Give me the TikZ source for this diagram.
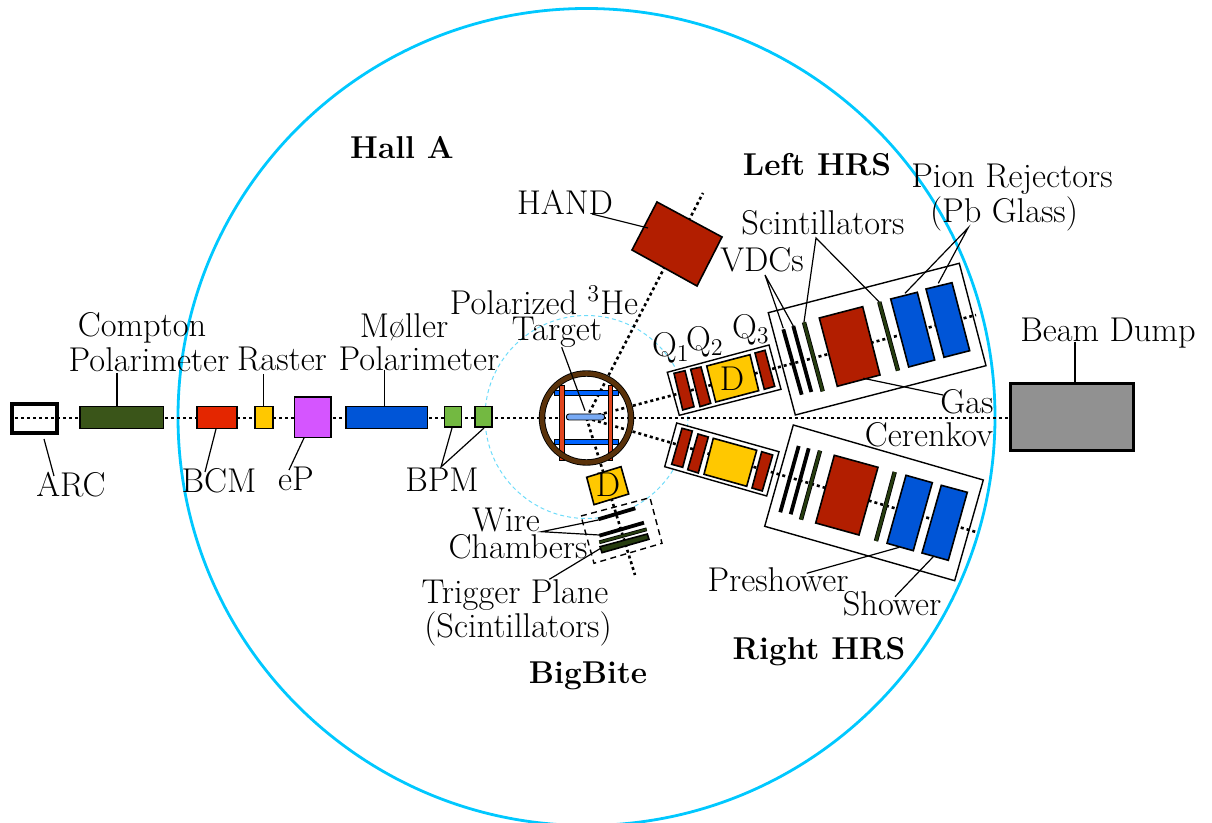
\documentclass[tikz,border=0pt]{standalone}
\usetikzlibrary{calc}
\definecolor{hallcyan}{RGB}{0,200,255}
\definecolor{lightcyan}{RGB}{110,220,250}
\definecolor{dkgreen}{RGB}{58,85,25}
\definecolor{barkgreen}{RGB}{38,60,15}
\definecolor{magred}{RGB}{178,30,0}
\definecolor{bcmred}{RGB}{228,38,0}
\definecolor{yel}{RGB}{255,200,0}
\definecolor{purp}{RGB}{213,85,255}
\definecolor{blu}{RGB}{0,85,215}
\definecolor{tblue}{RGB}{0,100,255}
\definecolor{bpmgreen}{RGB}{115,185,65}
\definecolor{brownring}{RGB}{90,50,10}
\definecolor{cell}{RGB}{120,170,245}
\definecolor{orangered}{RGB}{225,70,30}
\tikzset{
  x=0.5pt,y=-0.5pt,
  txt/.style={inner sep=0pt,font=\fontsize{17.2}{20}\selectfont,align=center},
  bold/.style={txt,font=\fontsize{15.8}{19}\selectfont\bfseries},
  leader/.style={line width=0.6pt,black},
  beam/.style={line width=1.3pt,dash pattern=on 1.5pt off 1.5pt,black},
  part/.style={draw=black,line width=0.8pt},
  tpart/.style={draw=black,line width=0.45pt},
  dev/.style={part,inner sep=0pt,outer sep=0pt},
  cont/.style={draw=black,fill=white,line width=0.7pt},
  bar/.style={line width=1.9pt,black},
}
\newcommand{\dev}[6]{\node[dev,fill=#2,minimum width={(#5-#3)*0.5pt},minimum height={(#6-#4)*0.5pt}] (#1) at ({(#3+#5)/2},{(#4+#6)/2}) {};}
% green scintillator plane as an outlined thick line
\newcommand{\scint}[5][4]{\draw[black,line width={(#1+0.8)*0.5pt}] (#2,#3) -- (#4,#5); \draw[barkgreen,line width={(#1-0.8)*0.5pt}] (#2,#3) -- (#4,#5);}
\begin{document}
\begin{tikzpicture}
\useasboundingbox (0,0) rectangle (1212,823);
% hall and target circles
\coordinate (hallc) at (586.5,417);
\coordinate (pivot) at (586.5,418);
\draw[hallcyan,line width=1.4pt] (hallc) circle[radius=408.5];
\draw[lightcyan,line width=0.5pt,dash pattern=on 2pt off 1.5pt] (hallc) circle[radius=101.5];
% spectrometer containers
\draw[cont] (667.3,372.3) -- (769,345) -- (781,389.3) -- (679.3,415.3) -- cycle;
\draw[cont] (768.3,312.7) -- (959.3,263.3) -- (986,365.7) -- (795.3,415) -- cycle;
\draw[cont] (676.7,423) -- (779,451.7) -- (766.7,496) -- (664.7,466.7) -- cycle;
\draw[cont] (793.3,425) -- (983.3,480) -- (954.7,580.7) -- (764.7,526.3) -- cycle;
% target vessel interior and beam lines
\fill[white] (pivot) circle[radius=46];
\coordinate (beamstart) at (15,418);
\coordinate (beamend) at (1012,418);
\coordinate (handend) at (703,193);
\coordinate (bbend) at (635,575);
\coordinate (lhrsend) at (976,315);
\coordinate (rhrsend) at (976,532);
\draw[beam] (beamstart) -- (beamend);
\draw[beam] (pivot) -- (handend);
\draw[beam] (pivot) -- (bbend);
\draw[beam] (pivot) -- (lhrsend);
\draw[beam] (pivot) -- (rhrsend);
% beamline devices
\node[draw=black,line width=2.1pt,inner sep=0pt,minimum width=22.5pt,minimum height=14.5pt] (arc) at (34.5,418.2) {};
\dev{compton}{dkgreen}{80}{406.7}{163.3}{428.7}
\dev{bcm}{bcmred}{196.7}{406.7}{236.7}{428.7}
\dev{raster}{yel}{254.7}{406.7}{272.7}{428.7}
\dev{ep}{purp}{294.3}{397.3}{330.7}{437.7}
\dev{moller}{blu}{345.7}{406.7}{427.3}{428.7}
\dev{bpma}{bpmgreen}{444.3}{406.7}{461.3}{427.3}
\dev{bpmb}{bpmgreen}{474.7}{406.7}{491.7}{427.3}
\node[draw=black,line width=1.7pt,fill=black!43,inner sep=0pt,minimum width=61.5pt,minimum height=33.5pt] (dump) at (1072,417) {};
% target
\draw[tpart,fill=tblue] (554,390.5) rectangle (618,395);
\draw[tpart,fill=tblue] (554,439.5) rectangle (618,444);
\draw[tpart,fill=orangered] (559.5,385) rectangle (564,460);
\draw[tpart,fill=orangered] (608,385) rectangle (612.5,460);
\draw[tpart,fill=cell,rounded corners=1.2pt] (566.5,414) rectangle (604.5,420);
\draw[black,line width=3.2pt] (pivot) circle[radius=44.5];
\draw[brownring,line width=2.3pt] (pivot) circle[radius=44.5];
% HAND
\draw[part,fill=magred] (657,202) -- (722,237) -- (697,286) -- (632,250) -- cycle;
% left HRS
\draw[part,fill=magred] (674,373.3) -- (685,370.7) -- (694,406.7) -- (682.7,410) -- cycle;
\draw[part,fill=magred] (690.7,369.3) -- (701,367) -- (710.7,403.3) -- (700,406.7) -- cycle;
\draw[part,fill=yel] (706.7,366) -- (750,354.7) -- (758.7,390.7) -- (715.7,402) -- cycle;
\draw[part,fill=magred] (755,353) -- (765,350.3) -- (774.7,386.3) -- (764.3,389.3) -- cycle;
\draw[bar] (783.3,329.3) -- (801.7,394.7);
\draw[bar] (793.3,326) -- (811.3,392);
\scint[3.6]{804}{322.3}{822.7}{391.3}
\draw[part,fill=magred] (819.3,318) -- (862.7,306.7) -- (880,375) -- (837.3,386.3) -- cycle;
\scint[3.6]{879.3}{302}{898}{370.7}
\draw[part,fill=blu] (890.7,299) -- (917.3,292.3) -- (934.7,360) -- (908.7,367) -- cycle;
\draw[part,fill=blu] (926,289) -- (952,282.7) -- (969.7,350.7) -- (944,357.3) -- cycle;
% right HRS
\draw[part,fill=magred] (682,428.3) -- (692.3,431) -- (682.7,467.3) -- (671.7,464.3) -- cycle;
\draw[part,fill=magred] (698,434) -- (708.3,437) -- (698.3,473) -- (687.7,469.7) -- cycle;
\draw[part,fill=yel] (713.3,438.3) -- (756.7,450.3) -- (746.7,486.3) -- (704,474.3) -- cycle;
\draw[part,fill=magred] (761.7,451.7) -- (772.7,455) -- (762.3,491) -- (752,488) -- cycle;
\draw[bar] (798.7,446) -- (780.3,512.3);
\draw[bar] (808.7,448.3) -- (790.7,514.3);
\scint[3.6]{820}{450.7}{801}{519.7}
\draw[part,fill=magred] (834.3,455.3) -- (878,467.3) -- (859,535) -- (815.7,523) -- cycle;
\scint[3.6]{894.7}{472}{876}{541}
\draw[part,fill=blu] (906,475.3) -- (932.3,482.7) -- (913.3,550.7) -- (887,543.3) -- cycle;
\draw[part,fill=blu] (941.3,485.3) -- (967.3,492.3) -- (948.3,560.3) -- (922,553) -- cycle;
% BigBite
\draw[part,fill=yel] (586.7,477.3) -- (621,466.7) -- (628.7,494) -- (594,504.7) -- cycle;
\draw[line width=0.7pt,dash pattern=on 3pt off 2.2pt] (581,516) -- (650,497.7) -- (662,543.3) -- (594,563.3) -- cycle;
\draw[bar] (598.3,519.3) -- (635.3,508.3);
\draw[bar] (599.3,535.7) -- (644,522.7);
\scint[3]{599.3}{542.3}{646.7}{529.3}
\draw[part,fill=barkgreen] (600,546.7) -- (647.3,534) -- (649,539.3) -- (602,552.7) -- cycle;
% labels
\node[bold] (halla) at (402,148) {Hall A};
\node[bold] (lhrs) at (817,165) {Left HRS};
\node[bold] (rhrs) at (819,652) {Right HRS};
\node[bold] (bigbite) at (588,676) {BigBite};
\node[txt] (hand) at (565,202) {HAND};
\node[txt] (scints) at (823,223) {Scintillators};
\node[txt] (vdcs) at (762,260) {VDCs};
\node[txt] (pion) at (1012,179) {Pion Rejectors};
\node[txt] (pb) at (1004,214) {(Pb Glass)};
\node[txt] (pol) at (544,300) {Polarized \textsuperscript{3}He};
\node[txt] (target) at (557,332) {Target};
\node[txt] (qa) at (671,348) {Q\textsubscript{1}};
\node[txt] (qb) at (705,342) {Q\textsubscript{2}};
\node[txt] (qc) at (751,330) {Q\textsubscript{3}};
\node[txt] (dleft) at (732,379) {D};
\node[txt] (dbb) at (608,485) {D};
\node[txt] (gas) at (967,402) {Gas};
\node[txt] (cer) at (929,435) {Cerenkov};
\node[txt] (dumplab) at (1108,333) {Beam Dump};
\node[txt] (comptona) at (142,328) {Compton};
\node[txt] (comptonb) at (149,360) {Polarimeter};
\node[txt] (rasterlab) at (282,359) {Raster};
\node[txt] (mollera) at (404,327) {M\o ller};
\node[txt] (mollerb) at (419,359) {Polarimeter};
\node[txt] (arclab) at (71,485) {ARC};
\node[txt] (bcmlab) at (219,481) {BCM};
\node[txt] (eplab) at (296,479) {eP};
\node[txt] (bpmlab) at (442,480) {BPM};
\node[txt] (wire) at (506,520) {Wire};
\node[txt] (chambers) at (518,547) {Chambers};
\node[txt] (trig) at (515,595) {Trigger Plane};
\node[txt] (trigb) at (518,629) {(Scintillators)};
\node[txt] (presh) at (778,580) {Preshower};
\node[txt] (shower) at (892,604) {Shower};
% leader ends
\foreach \n/\p in {lcompton/{117,373},lcomptonb/{117,406.7},lraster/{263.7,374},lrasterb/{263.7,406.7},
  lmoller/{384.7,370},lmollerb/{384.7,406.7},larc/{44,439},larcb/{54,476},lbcm/{216,429},lbcmb/{205,472},
  lep/{304,438},lepb/{289,470},lbpm/{441,467},lbpma/{452,428},lbpmb/{484,428},ldump/{1075,342},ldumpb/{1075,383},
  ltarget/{561.7,347.3},ltargetb/{585,410.7},lwire/{541.7,531.7},lwirea/{598.3,520},lwireb/{599.3,535},
  ltrig/{549.3,579.3},ltrigb/{600.7,548.3},lvdc/{765,275},lvdca/{783.3,328.3},lvdcb/{793.3,326},
  lsci/{816,238},lscia/{804,322},lscib/{879.3,302},lpion/{968,228},lpiona/{905,293.3},lpionb/{938.3,283.3},
  lgas/{943,395},lgasb/{863.3,378.3},lpre/{806.7,573.3},lpreb/{899.3,547.3},lsho/{895,596.7},lshob/{933.3,556.7},
  lhand/{592,214},lhandb/{648,228}}{\coordinate (\n) at (\p);}
\draw[leader] (lcompton) -- (lcomptonb);
\draw[leader] (lraster) -- (lrasterb);
\draw[leader] (lmoller) -- (lmollerb);
\draw[leader] (larc) -- (larcb);
\draw[leader] (lbcm) -- (lbcmb);
\draw[leader] (lep) -- (lepb);
\draw[leader] (lbpma) -- (lbpm) -- (lbpmb);
\draw[leader] (ldump) -- (ldumpb);
\draw[leader] (ltarget) -- (ltargetb);
\draw[leader] (lwirea) -- (lwire) -- (lwireb);
\draw[leader] (ltrig) -- (ltrigb);
\draw[leader] (lvdca) -- (lvdc) -- (lvdcb);
\draw[leader] (lscia) -- (lsci) -- (lscib);
\draw[leader] (lpiona) -- (lpion) -- (lpionb);
\draw[leader] (lgas) -- (lgasb);
\draw[leader] (lpre) -- (lpreb);
\draw[leader] (lsho) -- (lshob);
\draw[leader] (lhand) -- (lhandb);
\end{tikzpicture}
\end{document}
